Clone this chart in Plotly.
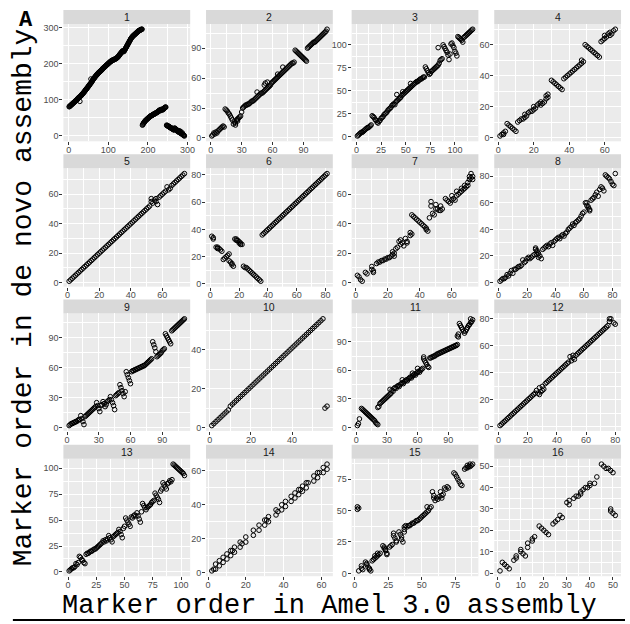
import plotly.graph_objects as go

# Marker order in the de novo assembly, listed by marker order in Amel 3.0
# (position i in a Y list is Amel order i+1; None means no marker there).
# E lists hold extra (amel, de novo) pairs that share an Amel position.

Y1 = [81, 82, 83, 84, 85, 86, 87, 88, 89, 90,
      91, 92, 93, 94, 95, 96, 97, 98, 99, 100,
      101, 102, 104, 105, 106, 107, 108, 96, 110, 111,
      112, 113, 115, 116, 117, 118, 120, 121, 122, 124,
      125, 127, 128, 130, 131, 132, 134, 135, 137, 138,
      140, 141, 143, 144, 146, 158, 148, 150, 152, 154,
      156, 157, 159, 160, 162, 163, 165, 166, 167, 169,
      170, 171, 172, 174, 175, 176, 177, 178, 179, 180,
      181, 182, 183, 184, 186, 187, 188, 189, 190, 191,
      192, 193, 194, 195, 196, 197, 198, 199, 200, 201,
      202, 203, 204, 205, 206, 207, 208, 208, 209, 210,
      210, 211, 211, 212, 212, 213, 213, 214, 215, 215,
      216, 217, 218, 219, 220, 222, 223, 225, 226, 228,
      229, 230, 232, 233, 234, 236, 235, 237, 234, 236,
      238, 240, 242, 244, 246, 248, 250, 252, 254, 256,
      258, 260, 262, 264, 266, 268, 270, 272, 273, 274,
      276, 277, 278, 279, 280, 281, 282, 283, 284, 285,
      286, 287, 288, 289, 290, 291, 292, 292, 293, 294,
      294, 295, 295, 296, 296,
      30, 32, 34, 36, 37, 39, 40, 42, 43, 44,
      45, 46, 47, 48, 49, 50, 51, 52, 53, 54,
      55, 55, 56, 57, 57, 58, 59, 59, 60, 61,
      61, 62, 62, 63, 64, 64, 65, 66, 66, 67,
      68, 69, 70, 72, 71, 70, 72, 73, 74, 73,
      72, 73, 75, 74, 76, 77, 78, 79, 80, 80,
      None,
      30, 29, 29, 28, 27, 27, 26, 25, 24, 24,
      23, 22, 22, 21, 20, 20, 19, 18, 17, 17,
      22, 21, 20, 19, 18, 16, 15, 14, 13, 12,
      15, 11, 10, 14, 9, 8, 12, 7, 6, 5,
      8, 4, 3, 2, 1, 0]
E1 = []

Y2 = [2, 3, 5, 4, 6, 5, 7, 8, 9, 10,
      11, 12, 11,
      29, 28, 27, 25, 24, 22, 20, 18,
      14, 16, 15, 18, 17, 20,
      21, 22, 26, 30, 31, 32, 33, 33, 34, 34,
      35, 36, 37, 37, 38, 39, 40, 41, 42, 43,
      44, 45, 45, 46, 47, 48, 49, 50, 51, 52,
      53, 55, 56, 57, 58, 59, 60, 61, 62, 63,
      64, 65, 66, 67, 68, 69, 70, 71, 72, 73,
      74, 75, 75, 76,
      88, 87, 86, 85, 84, 83, 82, 81, 80, 79, 78, 77,
      90, 91, 92, 93, 94, 95, 96, 96, 97, 98,
      99, 100, 101, 102, 103, 104, 105, 106, 107, 109]
E2 = [(24, 13), (26, 19), (45, 46), (52, 53), (53, 55), (55, 56), (65, 64), (70, 71)]

Y3 = [1, 2, 3, 4, 5, 5, 6, 7, 8, 9,
      10, 10, 11, 12, 13,
      23, 22, 21, 19, 18, 16, 15,
      17, 18, 20, 21, 22, 24, 25, 26, 27, 29,
      30, 31, 32, 34, 35, 36, 35, 38, 39, 40,
      41, 42, 43, 45, 46, 47, 48, 49, 50, 51,
      52, 53, 54, 55, 56, 57, 58, 59, 60, 60,
      61, 62, 63, 63, 64, 65, 65,
      76, 74, 72, 70, 68,
      69, 71, 72, 73, 74, 75, 76, 77, 78, 80,
      83, 84, 85,
      100, 98, 96, 94, 92, 89,
      84, 90,
      101, 102, 99, 97,
      93, 91, 88,
      109, 108, 107, 106, 105, 103,
      108, 109, 110, 111, 112, 113, 114, 115, 116, 117]
E3 = [(41, 46), (83, 97), (47, 49), (55, 58)]

Y4 = [1, 2, 3, 4, 9, 8, 7, 6, 5, 4,
      10, 11, 12, 12, 13, 14, 16, 17, 17, 18,
      19, 21, 22, 21, 22, 23, 25, 26, None, 37,
      36, 35, 34, 33, 32, 31, 38, 39, 40, 41,
      42, 43, 44, 45, 46, 47, 48, 49, 60, 59,
      58, 57, 56, 55, 54, 53, 52, 62, 63, 64,
      65, 67, 66, 67, 69, 70]
E4 = [(3, 2), (15, 15), (20, 20), (24, 23), (27, 27), (28, 28), (47, 50), (60, 66), (63, 68)]

Y5 = [1, 2, 3, 4, 5, 6, 7, 8, 9, 10,
      11, 12, 13, 14, 15, 16, 17, 18, 19, 20,
      21, 22, 23, 24, 25, 26, 27, 28, 29, 30,
      31, 32, 33, 34, 35, 36, 37, 38, 39, 40,
      41, 42, 43, 44, 45, 46, 47, 48, 49, 50,
      51, 52, 57, 54, 56, 55, 53, 58,
      59, 60, 61, 62, 65, 63, 64, 66, 67, 68, 69, 70, 71, 72, 73, 74]
E5 = [(53, 55), (56, 57)]

Y6 = [35, 34, None, 27, 26, 26, 25, 24, 18, 19,
      20, 21, 22, 16, 15, 13, 33, 32, 32, 31,
      30, 29, 13, 12, 12, 11, 10, 9, 8, 7,
      6, 5, 4, 3, 2,
      36, 37, 38, 39, 40, 41, 42, 43, 44, 45,
      46, 47, 48, 49, 50, 51, 52, 53, 54, 55,
      56, 57, 58, 59, 60, 61, 62, 63, 64, 65,
      66, 67, 68, 69, 70, 71, 72, 73, 74, 75,
      76, 77, 78, 79, 80, 81]
E6 = [(2, 33), (5, 27), (13, 17), (15, 14), (18, 33), (20, 30), (21, 29)]

Y7 = [5, 4, 2, 1, None, 7, 6, None, None, 11,
      8, None, 13, 14, 14, 15, 15, 16, 16, 17,
      17, 18, 19, 20, 23, 24, 28, 26, 27, 25,
      30, 27, None, 34, 46, 45, 44, 43, 42, 41,
      40, 39, 38, 37, 35, 44, 55, 47, 46, 53,
      50, 49, 52, 50, None, 57, 56, 55, 54, 59,
      57, 56, 62, 60, 61, 62, 63, 64, 65, 66,
      72, 74, 70]
E7 = [(10, 9), (11, 7), (23, 21), (24, 18), (28, 29), (32, 28), (34, 32), (35, 33),
      (44, 36), (47, 52), (50, 50), (53, 49), (60, 56), (63, 59), (66, 64), (68, 66),
      (70, 68), (71, 70), (72, 71), (73, 72)]

Y8 = [1, 2, 3, 3, 4, 6, 5, 7, 9, 7,
      10, 10, 11, 12, 12, 13, 17, 15, 16, 18,
      19, 18, 19, 20, 21, 26, 24, 22, 20, 18,
      25, 26, 27, 28, 27, 29, 30, 28, 31, 32,
      33, 34, 33, 35, 36, 35, 37, 38, 40, 41,
      42, 44, 43, 45, 46, 47, 48, 50, 52, 53,
      60, 58, 56, 54, 62, 63, 64, 66, 68, 65,
      70, 72, 71, 69, 81, 80, 79, 78, 76, 74,
      73, 82]
E8 = [(26, 25), (27, 23), (27, 21), (28, 19), (62, 60), (63, 57), (64, 55)]

Y9 = [None, 2, 3, 4, 4, 5, 5, 6, 6,
      7, 8, 8,
      12, 9, 6, 3,
      11, 12, 13, 14, 15, 16, 17, 18,
      19, 20, 21,
      25, 22, 19, 16,
      22, 23,
      26, 24, 21, 23,
      26, 27, 28,
      31, 28, 25, 22, 18,
      32, 33, 34, 35,
      43, 40, 37, 34, 31,
      36,
      56, 53, 50, 47, 44,
      56, 57, 57, 58, 58, 59, 59, 60, 60, 61, 61, 62,
      62, 63, 64, 65, 66, 67, 68, 69,
      86, 83, 80, 76,
      71, 72,
      73, 74, 75, 77, 78, 79,
      94, 92, 90, 88, 86, 84,
      97, 98, 99, 100, 101, 102, 103, 104, 105, 106, 107, 108, 109]
E9 = []

Y10 = [1, 2, 3, 4, 5, 6, 7, 8, 9,
       11, 12, 13, 14, 15, 16, 17, 18, 19, 20,
       21, 22, 23, 24, 25, 26, 27, 28, 29, 30,
       31, 32, 33, 34, 35, 36, 37, 38, 39, 40,
       41, 42, 43, 44, 45, 46, 47, 48, 49, 50,
       51, 52, 53, 54, 55, 56,
       10, 11]
E10 = []

Y11 = [2, 4, 9, None,
       20, 19, 18, 17, 16, 15, 14, 13, 12, 11, 10, 9, 8, 7, 5, 4, 3,
       22, 25,
       26, 27, 28, 29, 30, 31, 32, 33, 34, 35, 36, 39, 38,
       41, 42, 41, 43, 44, 43, 45, 46, 47, 46,
       48, 49, 50, 49, 51, 52, 53, 52, 54, 55,
       56, 55, 57, 58, 59, 58, 60, 61, 62,
       72, 70, 68, 66, 64, 63,
       73, 73, 74, 74, 75, 75, 76, 77, 77, 78,
       78, 79, 79, 80, 80, 81, 81, 82, 82, 83,
       83, 84, 84, 85, 85, 86, 86, 87,
       95,
       109, 107, 105, 103, 101, 99,
       101, 103, 105, 107, 108, 110, 111, 113]
E11 = [(21, 21), (33, 40), (45, 50), (55, 57), (60, 62), (66, 74), (99, 96), (100, 98), (112, 114)]

Y12 = [1, 2, 3, 4, 5, 6, 7, 8, 9, 10,
       11, 12, 13, 14, 15, 16, 17, 18, 19, 20,
       21, 22, 23, 24, 25,
       27, 25, 29, 26, 30, 28, 32,
       33, 34, 35, 36, 37, 38, 39, 40, 41, 42, 43, 44, 45, 46, 47, 48,
       52, 49, 51, 50, 53,
       54, 55, 56, 57, 58, 59, 60, 61, 62, 63, 64,
       65, 66, 67, 68, 69, 70, 71, 72, 73, 74, 75,
       78, 80, None, 77, 76]
E12 = [(28, 24), (30, 27), (51, 53), (76, 80)]

Y13 = [1, 2, 3, 4, 4, 5,
       8, 7, 9,
       15, 14, 12, 11, 9, 8,
       17, 18, 18, 19, 20, 20, 21, 22, 22, 23, 24, 25, 26, 27,
       28, 30,
       29, 31, 30, 32,
       35, 33, 31, 29,
       34, 35, 36, 37, 38,
       41, 39, 36, 33,
       42,
       44,
       52, 50, 48, 46, 44,
       53, 52, 54,
       55, 54,
       57, 54, 51, 48,
       58,
       66, 64, 62, 60,
       62, 63, 64, 65, 67, 68, 69,
       76, 74, 72, 70, 67,
       78, 80,
       86, 84, 82, 80,
       85, 86, 88, 87, 89,
       104, 103, 102, 101, 100, 99, 98, 97, 96, 95, 93]
E13 = []

# chromosomes 14-16: markers sharing Amel positions, listed as explicit pairs
X14 = [2, 3, 4, 4, 6, 6, 8, 8, 10, 10,
       12, 12, 13, 14, 14, 17, 17, 18, 20, 20,
       24, 24, 27, 27, 30, 30, 31, 32, 32, 36,
       36, 37, 39, 39, 41, 41, 44, 44, 46, 46,
       48, 48, 49, 50, 50, 52, 52, 53, 56, 56,
       58, 58, 59, 61, 61, 63, 63]
Y14 = [1, 2, 2, 5, 4, 7, 6, 9, 8, 11,
       10, 13, 13, 12, 15, 15, 18, 17, 18, 21,
       22, 25, 25, 28, 28, 31, 31, 30, 33, 34,
       37, 36, 37, 40, 39, 42, 42, 45, 44, 47,
       46, 49, 49, 48, 51, 50, 53, 53, 54, 57,
       56, 59, 59, 59, 62, 61, 64]

X15 = [2, 2, 3, 3, 5, 5, 6, 8, 9, 9, 10, 11, 11, 12,
       13, 14, 15, 15, 16, 17, 17, 18, 19,
       21, 22, 22, 23, 23, 24, 24, 26, 27, 28,
       29, 29, 30, 31, 31, 33, 34, 35, 35, 36,
       37, 37, 37, 38,
       39, 40, 41, 42, 43, 44, 45, 46, 47, 48, 49, 50, 51, 52, 53, 54, 55,
       54, 56, 57, 58, 59, 59, 60, 61, 62, 63, 64, 65, 65, 66, 67, 68, 69, 70,
       74, 75, 76, 77, 78, 79, 80,
       82, 83, 84, 84, 85, 86, 86, 87, 88]
Y15 = [53, 51, 52, 2, 6, 4, 3, 9, 8, 7, 5, 4, 3, 2,
       10, 11, 12, 14, 13, 14, 16, 15, 16,
       22, 21, 20, 19, 18, 16, 15, 21, 22, 23,
       32, 30, 28, 26, 25, 33, 31, 29, 27, 25,
       33, 35, 37, 38,
       37, 38, 38, 39, 40, 40, 41, 42, 42, 43, 44, 45, 46, 47, 48, 49, 50,
       53, 52, 53, 65, 62, 60, 58, 60, 59, 61, 65, 62, 60, 63, 68, 67, 69, 68,
       80, 79, 77, 75, 73, 71, 70,
       83, 84, 86, 84, 85, 87, 85, 86, 87]

X16 = [1, 2, 3, 4, 5, 7, 8, 8, 10, 10, 11, 12, 13, 13, 15, 15, 16,
       18, 19, 20, 21, 22, 24, 25, 26, 27, 28, 30, 31, 31,
       33, 34, 35, 36, 36, 37, 38, 39, 40, 40, 42, 43,
       45, 46, 47, 48, 49, 50, 49, 49, 50, 51]
Y16 = [1, 5, 4, 3, 2, 6, 7, 8, 11, 10, 9, 8, 14, 12, 15, 16, 17,
       22, 21, 20, 19, 18, 23, 24, 25, 27, 26, 33, 32, 34,
       35, 36, 36, 37, 38, 39, 40, 40, 41, 42, 42, 45,
       51, 50, 49, 49, 48, 47, 30, 29, 28, 27]

TICK_STEP = [100, 30, 25, 20, 20, 20, 20, 20, 30, 20, 30, 20, 25, 20, 25, 10]
PANEL_LABELS = [str(i) for i in range(1, 17)]
X_TITLE = "Marker order in Amel 3.0 assembly"
Y_TITLE = "Marker order in de novo assembly"


def collect(y_by_pos=(), extra=(), xs=None, ys=None):
    """Turn an Amel-ordered list (plus extras / explicit pairs) into x, y arrays."""
    X, Y = [], []
    if xs is not None:
        X += list(xs)
        Y += list(ys)
    for i, v in enumerate(y_by_pos, start=1):
        if v is not None:
            X.append(i)
            Y.append(v)
    for a, b in extra:
        X.append(a)
        Y.append(b)
    return X, Y


panels = [
    collect(Y1, E1), collect(Y2, E2), collect(Y3, E3), collect(Y4, E4),
    collect(Y5, E5), collect(Y6, E6), collect(Y7, E7), collect(Y8, E8),
    collect(Y9, E9), collect(Y10, E10), collect(Y11, E11), collect(Y12, E12),
    collect(Y13, E13), collect(xs=X14, ys=Y14), collect(xs=X15, ys=Y15), collect(xs=X16, ys=Y16),
]

# page geometry (pixels)
W, H = 630, 624
COL_PX = [(63, 191), (207, 335), (354, 482), (498, 626)]
ROW_PX = [(23, 141), (168, 287), (314, 432), (460, 578)]
STRIP_H = 14

TICK_FONT = dict(family="Liberation Sans Narrow, Arial Narrow, Liberation Sans, Arial, sans-serif",
                 size=9, color="#4D4D4D")
MONO = "Courier New, Liberation Mono, monospace"


def fx(px):
    return px / W


def fy(px):
    return 1 - px / H


def padded(vals):
    lo, hi = min(vals), max(vals)
    pad = 0.05 * (hi - lo)
    return [lo - pad, hi + pad]


fig = go.Figure()
layout = {}
shapes = []
annotations = []

for k, (xs, ys) in enumerate(panels):
    r, c = divmod(k, 4)
    sfx = "" if k == 0 else str(k + 1)
    fig.add_trace(go.Scatter(
        x=xs, y=ys, mode="markers", xaxis="x" + sfx, yaxis="y" + sfx,
        marker=dict(symbol="circle-open", size=4.6, color="black",
                    line=dict(width=1.0, color="black")),
        showlegend=False, hoverinfo="skip"))

    step = TICK_STEP[k]
    common = dict(
        tick0=0, dtick=step, ticks="outside", ticklen=3, tickwidth=1,
        tickcolor="#333333", tickfont=TICK_FONT,
        showgrid=True, gridcolor="white", gridwidth=1.2,
        minor=dict(tick0=0, dtick=step / 2, showgrid=True, gridcolor="white",
                   gridwidth=0.6, ticks=""),
        zeroline=False, showline=False, fixedrange=True)
    layout["xaxis" + sfx] = dict(
        domain=[fx(COL_PX[c][0]), fx(COL_PX[c][1])], anchor="y" + sfx,
        range=padded(xs), **common)
    layout["yaxis" + sfx] = dict(
        domain=[fy(ROW_PX[r][1]), fy(ROW_PX[r][0])], anchor="x" + sfx,
        range=padded(ys), **common)

    # facet strip
    shapes.append(dict(type="rect", xref="paper", yref="paper",
                       x0=fx(COL_PX[c][0]), x1=fx(COL_PX[c][1]),
                       y0=fy(ROW_PX[r][0]), y1=fy(ROW_PX[r][0] - STRIP_H),
                       fillcolor="#D9D9D9", line=dict(width=0), layer="below"))
    annotations.append(dict(
        text=PANEL_LABELS[k], xref="paper", yref="paper",
        x=fx((COL_PX[c][0] + COL_PX[c][1]) / 2), y=fy(ROW_PX[r][0] - STRIP_H / 2),
        xanchor="center", yanchor="middle", showarrow=False,
        font=dict(family=TICK_FONT["family"], size=10.5, color="#1A1A1A")))

# axis titles and panel tag
annotations.append(dict(text=X_TITLE, xref="paper", yref="paper",
                        x=fx(332), y=fy(608), xanchor="center", yanchor="middle",
                        showarrow=False, font=dict(family=MONO, size=27, color="black")))
annotations.append(dict(text=Y_TITLE, xref="paper", yref="paper", textangle=-90,
                        x=fx(23), y=fy(298), xanchor="center", yanchor="middle",
                        showarrow=False, font=dict(family=MONO, size=28, color="black")))
annotations.append(dict(text="<b>A</b>", xref="paper", yref="paper",
                        x=fx(25), y=fy(20), xanchor="center", yanchor="middle",
                        showarrow=False, font=dict(family=MONO, size=22, color="black")))

# rule under the figure
shapes.append(dict(type="line", xref="paper", yref="paper",
                   x0=fx(12), x1=fx(630), y0=fy(622), y1=fy(622),
                   line=dict(color="black", width=2)))

fig.update_layout(
    width=W, height=H, margin=dict(l=0, r=0, t=0, b=0),
    paper_bgcolor="white", plot_bgcolor="#EBEBEB",
    shapes=shapes, annotations=annotations, **layout)

# pull tick labels a little closer to their ticks where supported
try:
    fig.update_xaxes(ticklabelstandoff=-3)
    fig.update_yaxes(ticklabelstandoff=-1)
except ValueError:
    pass

fig.write_html("out.html")
